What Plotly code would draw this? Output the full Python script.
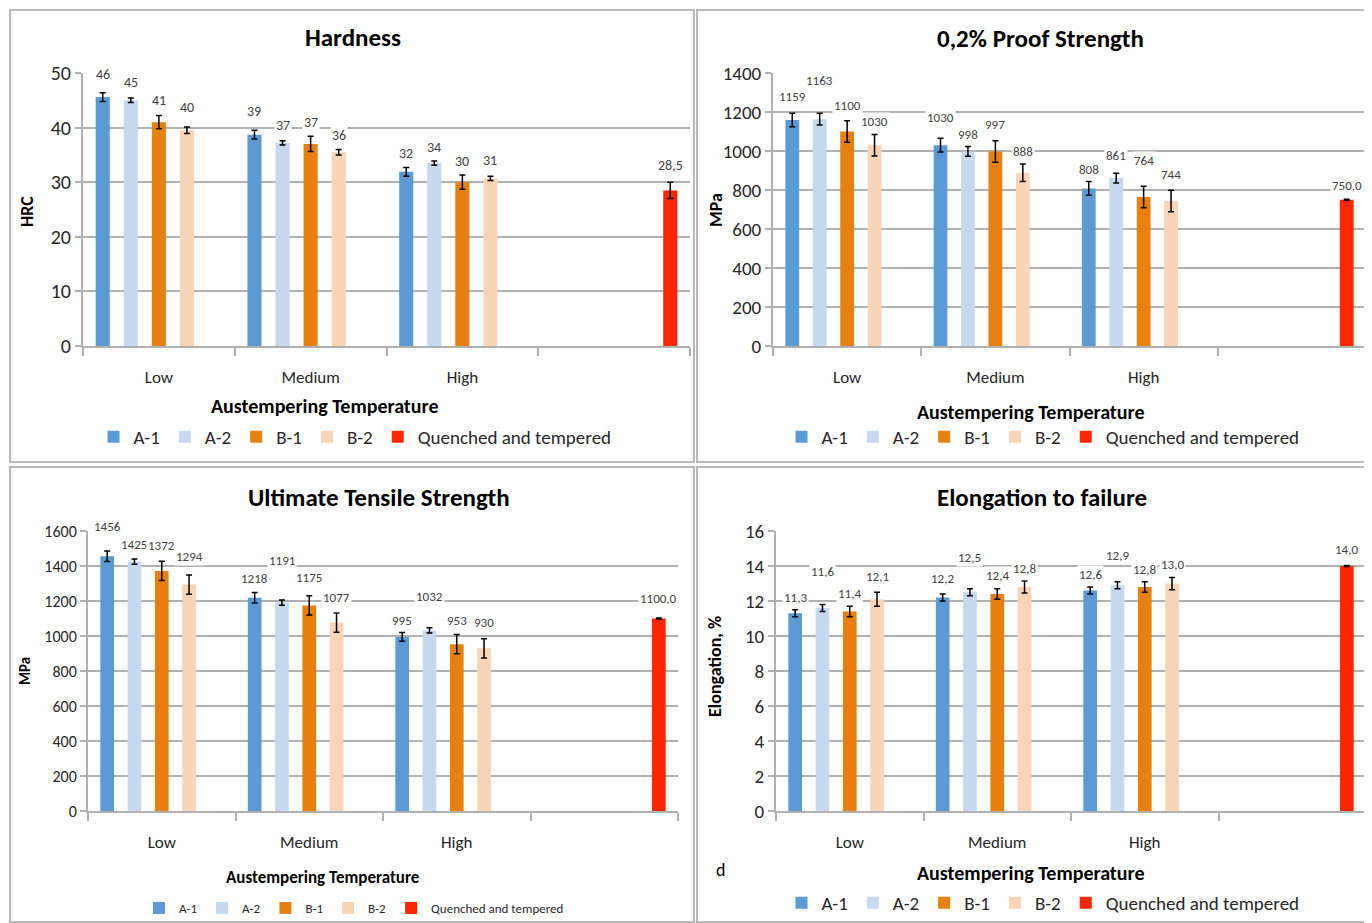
import plotly.graph_objects as go

# page body has an 8px margin: size the figure so it fills the window exactly
OFF = 8
W, H = 1372 - OFF, 923 - OFF
FONT = "Carlito, Lato, 'Open Sans', sans-serif"

categories = ["Low", "Medium", "High"]
series = ["A-1", "A-2", "B-1", "B-2", "Quenched and tempered"]
colors = ["#5b9bd5", "#c6d9f0", "#e8800f", "#fbd5b5", "#ff2600"]

# ---------------- Hardness (HRC) ----------------
hard_a1 = [45.6, 38.7, 31.9]
hard_a2 = [45.0, 37.2, 33.5]
hard_b1 = [41.0, 37.0, 30.0]
hard_b2 = [39.5, 35.5, 30.7]
hard_qt = [28.5]
hard_a1_err = [0.8, 0.8, 0.8]
hard_a2_err = [0.4, 0.4, 0.4]
hard_b1_err = [1.2, 1.4, 1.3]
hard_b2_err = [0.6, 0.5, 0.4]
hard_qt_err = [1.5]
hard_a1_lbl = ["46", "39", "32"]
hard_a2_lbl = ["45", "37", "34"]
hard_b1_lbl = ["41", "37", "30"]
hard_b2_lbl = ["40", "36", "31"]
hard_qt_lbl = ["28,5"]

# ---------------- 0,2% Proof strength (MPa) ----------------
ps_a1 = [1159, 1030, 808]
ps_a2 = [1163, 998, 861]
ps_b1 = [1100, 997, 764]
ps_b2 = [1030, 888, 744]
ps_qt = [750]
ps_a1_err = [35, 35, 35]
ps_a2_err = [30, 25, 25]
ps_b1_err = [55, 55, 55]
ps_b2_err = [55, 45, 55]
ps_qt_err = [3]
ps_a1_lbl = ["1159", "1030", "808"]
ps_a2_lbl = ["1163", "998", "861"]
ps_b1_lbl = ["1100", "997", "764"]
ps_b2_lbl = ["1030", "888", "744"]
ps_qt_lbl = ["750,0"]

# ---------------- Ultimate tensile strength (MPa) ----------------
uts_a1 = [1456, 1218, 995]
uts_a2 = [1425, 1191, 1032]
uts_b1 = [1372, 1175, 953]
uts_b2 = [1294, 1077, 930]
uts_qt = [1100]
uts_a1_err = [30, 30, 25]
uts_a2_err = [15, 15, 15]
uts_b1_err = [55, 55, 55]
uts_b2_err = [55, 55, 55]
uts_qt_err = [3]
uts_a1_lbl = ["1456", "1218", "995"]
uts_a2_lbl = ["1425", "1191", "1032"]
uts_b1_lbl = ["1372", "1175", "953"]
uts_b2_lbl = ["1294", "1077", "930"]
uts_qt_lbl = ["1100,0"]

# ---------------- Elongation to failure (%) ----------------
el_a1 = [11.3, 12.2, 12.6]
el_a2 = [11.6, 12.5, 12.9]
el_b1 = [11.4, 12.4, 12.8]
el_b2 = [12.1, 12.8, 13.0]
el_qt = [14.0]
el_a1_err = [0.2, 0.2, 0.2]
el_a2_err = [0.2, 0.2, 0.2]
el_b1_err = [0.3, 0.3, 0.3]
el_b2_err = [0.4, 0.35, 0.35]
el_qt_err = [0.03]
el_a1_lbl = ["11,3", "12,2", "12,6"]
el_a2_lbl = ["11,6", "12,5", "12,9"]
el_b1_lbl = ["11,4", "12,4", "12,8"]
el_b2_lbl = ["12,1", "12,8", "13,0"]
el_qt_lbl = ["14,0"]

ytick_hard = 10
ytick_ps = 200
ytick_uts = 200
ytick_el = 2

# extra upward nudge (px) of the data labels, as placed by hand in the original
hard_raise = [[5, 5, 0], [2, 2, 0], [2, 0, 0], [6, 0, 2], [3]]
ps_raise = [[4, 8, 0], [20, 0, 5], [3, 4, 13], [0, 0, 3], [1]]
uts_raise = [[12, 2, 0], [2, 27, 19], [3, 6, 2], [6, 3, 4], [7]]
el_raise = [[0, 3, 0], [21, 19, 14], [0, 1, 0], [3, 0, 0], [3]]


def px(v):
    return (v - OFF) / W


def py(v):
    return 1 - (v - OFF) / H


panels = [
    dict(vals=[hard_a1, hard_a2, hard_b1, hard_b2, hard_qt],
         errs=[hard_a1_err, hard_a2_err, hard_b1_err, hard_b2_err, hard_qt_err],
         lbls=[hard_a1_lbl, hard_a2_lbl, hard_b1_lbl, hard_b2_lbl, hard_qt_lbl],
         raise_=hard_raise,
         ymax=50, dtick=ytick_hard, title="Hardness", ytitle="HRC",
         plot=(83, 690, 73, 346), frame=(10, 694, 10, 462),
         title_xy=(353, 37), ytitle_xy=(27, 212), xtitle_xy=(324, 406),
         legend_xy=(355, 437), fs_tick=20, fs_cat=17, fs_lbl=14, fs_leg=19,
         fs_xt=20, fs_yt=18, fs_title=25),
    dict(vals=[ps_a1, ps_a2, ps_b1, ps_b2, ps_qt],
         errs=[ps_a1_err, ps_a2_err, ps_b1_err, ps_b2_err, ps_qt_err],
         lbls=[ps_a1_lbl, ps_a2_lbl, ps_b1_lbl, ps_b2_lbl, ps_qt_lbl],
         raise_=ps_raise,
         ymax=1400, dtick=ytick_ps, title="0,2% Proof Strength", ytitle="MPa",
         plot=(773, 1366, 73, 346), frame=(697, 1369, 10, 462),
         title_xy=(1040, 39), ytitle_xy=(716, 210), xtitle_xy=(1030, 412),
         legend_xy=(1043, 437), fs_tick=19, fs_cat=17, fs_lbl=13, fs_leg=19,
         fs_xt=20, fs_yt=18, fs_title=25),
    dict(vals=[uts_a1, uts_a2, uts_b1, uts_b2, uts_qt],
         errs=[uts_a1_err, uts_a2_err, uts_b1_err, uts_b2_err, uts_qt_err],
         lbls=[uts_a1_lbl, uts_a2_lbl, uts_b1_lbl, uts_b2_lbl, uts_qt_lbl],
         raise_=uts_raise,
         ymax=1600, dtick=ytick_uts, title="Ultimate Tensile Strength", ytitle="MPa",
         plot=(88, 678, 531, 811), frame=(10, 694, 467, 922),
         title_xy=(379, 497), ytitle_xy=(25, 671), xtitle_xy=(323, 877),
         legend_xy=(354, 908), fs_tick=16, fs_cat=17, fs_lbl=13, fs_leg=13,
         fs_xt=17, fs_yt=15, fs_title=25),
    dict(vals=[el_a1, el_a2, el_b1, el_b2, el_qt],
         errs=[el_a1_err, el_a2_err, el_b1_err, el_b2_err, el_qt_err],
         lbls=[el_a1_lbl, el_a2_lbl, el_b1_lbl, el_b2_lbl, el_qt_lbl],
         raise_=el_raise,
         ymax=16, dtick=ytick_el, title="Elongation to failure", ytitle="Elongation, %",
         plot=(776, 1366, 531, 811), frame=(697, 1369, 467, 922),
         title_xy=(1042, 497), ytitle_xy=(715, 667), xtitle_xy=(1030, 873),
         legend_xy=(1043, 903), fs_tick=19, fs_cat=17, fs_lbl=13, fs_leg=19,
         fs_xt=20, fs_yt=18, fs_title=25),
]

SLOT = 0.185
BAR_W = 0.093
GRID = "#b0b0b0"
TXT = "#262626"
LBL = "#404040"
BASE_SHIFT = 3

fig = go.Figure()
annotations = []
shapes = []
layout = {}

for p, cfg in enumerate(panels):
    n = "" if p == 0 else str(p + 1)
    xa, ya = "x" + n, "y" + n
    leg = "legend" + n
    for k in range(5):
        vals = cfg["vals"][k]
        if k < 4:
            xs = [i + (k - 2) * SLOT for i in range(len(vals))]
        else:
            xs = [len(categories) + 2 * SLOT]
        fig.add_trace(go.Bar(
            x=xs, y=vals, width=BAR_W, name=series[k],
            marker=dict(color=colors[k], line=dict(width=0)),
            error_y=dict(type="data", array=cfg["errs"][k], visible=True,
                         color="black", thickness=1.5, width=3),
            xaxis=xa, yaxis=ya, legend=leg, showlegend=True,
            hoverinfo="skip",
        ))
        for xv, yv, ev, t, r in zip(xs, vals, cfg["errs"][k], cfg["lbls"][k],
                                    cfg["raise_"][k]):
            annotations.append(dict(
                x=xv, y=yv + ev, xref=xa, yref=ya, text=t, showarrow=False,
                yanchor="bottom", xanchor="center", yshift=BASE_SHIFT + r,
                bgcolor="white", borderpad=1,
                font=dict(size=cfg["fs_lbl"], color=LBL, family=FONT)))

    x0, x1, y0, y1 = cfg["plot"]
    layout["xaxis" + n] = dict(
        domain=[px(x0), px(x1)], range=[-0.5, 3.5], anchor=ya,
        tickmode="array", tickvals=list(range(len(categories))), ticktext=categories,
        ticks="", showgrid=False, zeroline=False, showline=True,
        linecolor=GRID, linewidth=2, ticklabelstandoff=15,
        tickfont=dict(size=cfg["fs_cat"], color=TXT, family=FONT),
        minor=dict(tickmode="array", tickvals=[-0.5, 0.5, 1.5, 2.5, 3.5],
                   ticks="outside", ticklen=8, tickcolor=GRID, tickwidth=2,
                   showgrid=False),
        automargin=False, fixedrange=True)
    layout["yaxis" + n] = dict(
        domain=[py(y1), py(y0)], range=[0, cfg["ymax"]], dtick=cfg["dtick"],
        anchor=xa, showgrid=True, gridcolor=GRID, gridwidth=2, zeroline=False,
        showline=True, linecolor=GRID, linewidth=2, ticks="outside",
        ticklen=6, tickcolor=GRID, tickwidth=2,
        tickfont=dict(size=cfg["fs_tick"], color=TXT, family=FONT),
        automargin=False, fixedrange=True)
    lx, ly = cfg["legend_xy"]
    layout[leg] = dict(
        orientation="h", x=px(lx), y=py(ly), xanchor="center", yanchor="middle",
        font=dict(size=cfg["fs_leg"], color=TXT, family=FONT),
        bgcolor="rgba(0,0,0,0)", itemwidth=30, tracegroupgap=0,
        itemclick=False, itemdoubleclick=False)

    fx0, fx1, fy0, fy1 = cfg["frame"]
    shapes.append(dict(type="rect", xref="paper", yref="paper",
                       x0=px(fx0), x1=px(fx1), y0=py(fy1), y1=py(fy0),
                       line=dict(color="#b8b8b8", width=2), layer="below"))

    tx, ty = cfg["title_xy"]
    annotations.append(dict(x=px(tx), y=py(ty), xref="paper", yref="paper",
                            text="<b>" + cfg["title"] + "</b>", showarrow=False,
                            xanchor="center", yanchor="middle",
                            font=dict(size=cfg["fs_title"], color="black", family=FONT)))
    yx, yy = cfg["ytitle_xy"]
    annotations.append(dict(x=px(yx), y=py(yy), xref="paper", yref="paper",
                            text="<b>" + cfg["ytitle"] + "</b>", showarrow=False,
                            textangle=-90, xanchor="center", yanchor="middle",
                            font=dict(size=cfg["fs_yt"], color="black", family=FONT)))
    xx, xy = cfg["xtitle_xy"]
    annotations.append(dict(x=px(xx), y=py(xy), xref="paper", yref="paper",
                            text="<b>Austempering Temperature</b>", showarrow=False,
                            xanchor="center", yanchor="middle",
                            font=dict(size=cfg["fs_xt"], color="black", family=FONT)))

annotations.append(dict(x=px(720), y=py(870), xref="paper", yref="paper",
                        text="d", showarrow=False, xanchor="center", yanchor="middle",
                        font=dict(size=18, color="black", family=FONT)))

fig.update_layout(
    width=W, height=H, margin=dict(l=0, r=0, t=0, b=0, autoexpand=False),
    paper_bgcolor="white", plot_bgcolor="white",
    barmode="overlay", annotations=annotations, shapes=shapes,
    font=dict(family=FONT, color=TXT),
    **layout)

fig.write_html("out.html")
